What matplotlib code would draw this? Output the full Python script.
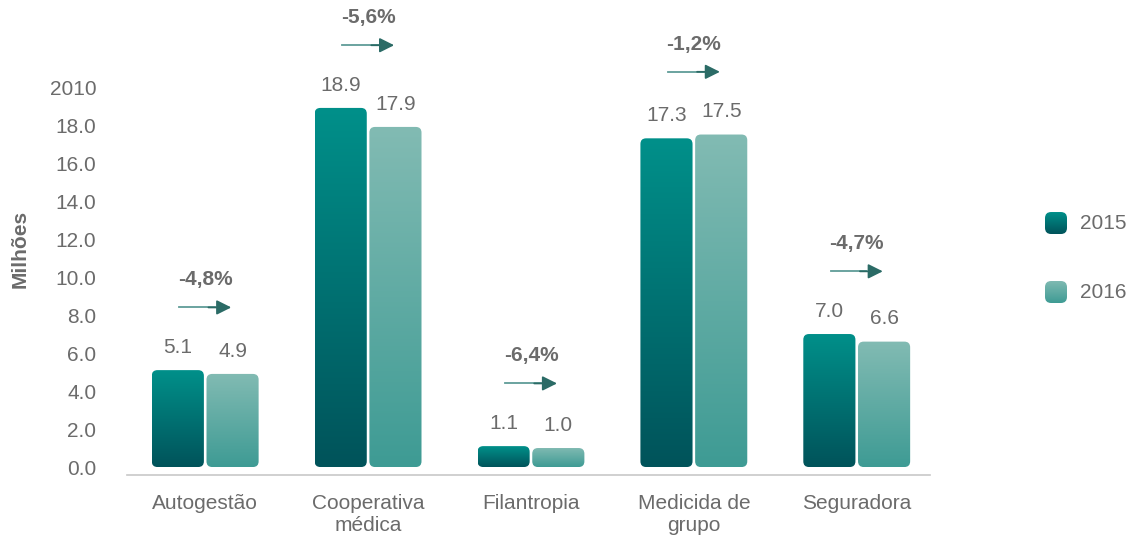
import numpy as np
import matplotlib
matplotlib.use('Agg')
from matplotlib import pyplot as plt
from matplotlib.colors import LinearSegmentedColormap
from matplotlib.patches import FancyBboxPatch

categories = ['Autogestão', 'Cooperativa\nmédica', 'Filantropia', 'Medicida de\ngrupo', 'Seguradora']
v2015 = [5.1, 18.9, 1.1, 17.3, 7.0]
v2016 = [4.9, 17.9, 1.0, 17.5, 6.6]
changes = ['-4,8%', '-5,6%', '-6,4%', '-1,2%', '-4,7%']
yticks = [0, 2, 4, 6, 8, 10, 12, 14, 16, 18, 20]
ytick_labels = ['0.0', '2.0', '4.0', '6.0', '8.0', '10.0', '12.0', '14.0', '16.0', '18.0', '2010']

grey = '#6b6b6b'
fs = 15
plt.rcParams['font.family'] = ['Liberation Sans', 'DejaVu Sans']

fig = plt.figure(figsize=(11.31, 5.36), dpi=100)
ax = fig.add_axes([0.1123, 0.1138, 0.710, 0.8862])

x = np.arange(len(categories))
w = 0.32
off = 0.168

cmap15 = LinearSegmentedColormap.from_list('c15', ['#01535a', '#00908a'])
cmap16 = LinearSegmentedColormap.from_list('c16', ['#3e9b94', '#82bbb3'])
grad = np.linspace(0, 1, 256).reshape(-1, 1)

bars15 = ax.bar(x - off, v2015, w, alpha=0)
bars16 = ax.bar(x + off, v2016, w, alpha=0)


def rounded(bars, cmap):
    for b in bars:
        bx, by, bw, bh = b.get_x(), b.get_y(), b.get_width(), b.get_height()
        p = FancyBboxPatch((bx, by), bw, bh,
                           boxstyle='round,pad=0,rounding_size=0.035',
                           mutation_aspect=8.6, fc='none', ec='none',
                           transform=ax.transData)
        ax.add_patch(p)
        im = ax.imshow(grad, cmap=cmap, origin='lower', aspect='auto',
                       extent=[bx, bx + bw, by, by + bh], zorder=2)
        im.set_clip_path(p)


rounded(bars15, cmap15)
rounded(bars16, cmap16)
ax.set_xlim(-0.48, 4.45)
ax.set_ylim(-0.42, 24.58)

# value labels above each bar
for xi, a, b in zip(x, v2015, v2016):
    ax.text(xi - off, a + 1.2, f'{a:.1f}', ha='center', va='center', fontsize=fs, color=grey)
    ax.text(xi + off, b + 1.2, f'{b:.1f}', ha='center', va='center', fontsize=fs, color=grey)

# change arrows with percent
for xi, a, b, c in zip(x, v2015, v2016, changes):
    top = max(a, b)
    ya = top + 3.3
    ax.plot([xi - 0.16, xi + 0.06], [ya, ya], color='#5f9c97', lw=1.3)
    ax.annotate('', xy=(xi + 0.16, ya), xytext=(xi + 0.02, ya),
                arrowprops=dict(arrowstyle='-|>', color='#2b6b66', lw=1.3,
                                mutation_scale=22, shrinkA=0, shrinkB=0))
    ax.text(xi, ya + 1.45, c, ha='center', va='center', fontsize=fs,
            fontweight='bold', color=grey)

ax.set_xticks(x)
ax.set_xticklabels(categories, fontsize=fs, color=grey, linespacing=1.15, va='top')
ax.set_yticks(yticks)
ax.set_yticklabels(ytick_labels, fontsize=fs, color=grey)
ax.tick_params(axis='both', length=0)
ax.tick_params(axis='x', pad=14)
ax.tick_params(axis='y', pad=22)
for s in ['top', 'right', 'left']:
    ax.spines[s].set_visible(False)
ax.spines['bottom'].set_color('#c8c8c8')
ax.spines['bottom'].set_linewidth(1.2)

fig.text(0.018, 0.535, 'Milhões', rotation=90, ha='center', va='center',
         fontsize=fs, fontweight='bold', color=grey)

# legend: square rounded gradient swatches, 22 px each
sw, sh = 22 / 1131, 22 / 536
for yb, cm, lab in [(0.5634, cmap15, '2015'), (0.4347, cmap16, '2016')]:
    lax = fig.add_axes([1045 / 1131, yb, sw, sh])
    lax.axis('off')
    p = FancyBboxPatch((0, 0), 1, 1, boxstyle='round,pad=0,rounding_size=0.28',
                       fc='none', ec='none')
    lax.add_patch(p)
    im = lax.imshow(grad, cmap=cm, origin='lower', aspect='auto', extent=[0, 1, 0, 1])
    im.set_clip_path(p)
    lax.set_xlim(0, 1)
    lax.set_ylim(0, 1)
    fig.text(1080 / 1131, yb + sh / 2, lab, ha='left', va='center', fontsize=fs, color=grey)

fig.savefig('out.png', dpi=100)
